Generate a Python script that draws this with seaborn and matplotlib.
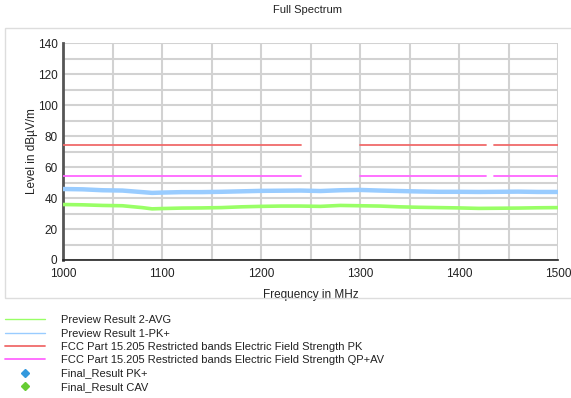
import numpy as np
import pandas as pd
import matplotlib
matplotlib.use("Agg")
import matplotlib.pyplot as plt
from matplotlib.lines import Line2D
from matplotlib.patches import Rectangle
from matplotlib.ticker import MultipleLocator
import seaborn as sns

# ---- data ----
freq = [1000, 1020, 1040, 1060, 1080, 1090, 1100, 1120, 1140, 1160, 1180, 1200, 1220, 1240,
        1260, 1280, 1300, 1320, 1340, 1360, 1380, 1400, 1420, 1440, 1460, 1480, 1500]
pk_level = [45.8, 45.6, 45.0, 44.8, 43.8, 43.3, 43.5, 43.8, 43.8, 44.0, 44.3, 44.6, 44.7, 44.8,
            44.5, 45.0, 45.2, 44.8, 44.5, 44.2, 44.0, 44.0, 43.9, 44.0, 44.1, 43.9, 43.9]
avg_level = [35.8, 35.6, 35.2, 35.0, 33.8, 33.0, 33.2, 33.5, 33.6, 33.8, 34.3, 34.6, 34.8, 34.8,
             34.6, 35.2, 35.0, 34.8, 34.3, 34.0, 33.8, 33.6, 33.3, 33.4, 33.5, 33.7, 33.8]
band_start = [1000, 1300, 1435]
band_stop = [1240, 1427, 1500]
limit_pk = 74
limit_av = 54
labels = ["Preview Result 2-AVG", "Preview Result 1-PK+",
          "FCC Part 15.205 Restricted bands Electric Field Strength PK",
          "FCC Part 15.205 Restricted bands Electric Field Strength QP+AV",
          "Final_Result PK+", "Final_Result CAV"]

c_avg = "#99ff66"
c_pk = "#99ccff"
c_red = "#f06a6a"
c_mag = "#ff66ff"

sns.set_theme(style="white")
plt.rcParams["font.family"] = ["Liberation Sans", "DejaVu Sans"]

fig = plt.figure(figsize=(5.71, 3.98), dpi=100)
W, H = 571, 398
ax = fig.add_axes([63 / W, 1 - 260 / H, (558 - 63) / W, (260 - 43) / H])

# panel border
fig.patches.append(Rectangle((5 / W, 1 - 298 / H), 1.0, (298 - 28) / H, transform=fig.transFigure,
                             fill=False, edgecolor="#dddddd", linewidth=1.0, zorder=0))

df = pd.DataFrame({"f": freq, "pk": pk_level, "avg": avg_level})
sns.lineplot(data=df, x="f", y="pk", ax=ax, color=c_pk, linewidth=3.2, zorder=3)
sns.lineplot(data=df, x="f", y="avg", ax=ax, color=c_avg, linewidth=2.6, zorder=3)

for s, e in zip(band_start, band_stop):
    lim = pd.DataFrame({"f": [s, e], "pk": [limit_pk, limit_pk], "av": [limit_av, limit_av]})
    sns.lineplot(data=lim, x="f", y="pk", ax=ax, color=c_red, linewidth=1.3, zorder=4)
    sns.lineplot(data=lim, x="f", y="av", ax=ax, color=c_mag, linewidth=1.3, zorder=4)

ax.set_xlim(1000, 1500)
ax.set_ylim(0, 140)
ax.xaxis.set_major_locator(MultipleLocator(100))
ax.xaxis.set_minor_locator(MultipleLocator(50))
ax.yaxis.set_major_locator(MultipleLocator(20))
ax.yaxis.set_minor_locator(MultipleLocator(10))
ax.grid(True, which="both", color="#d2d2d2", linewidth=1.5, zorder=0)
ax.set_axisbelow(True)
for side in ["top", "right"]:
    ax.spines[side].set_visible(False)
ax.spines["bottom"].set_color("#222222")
ax.spines["bottom"].set_linewidth(1.2)
ax.spines["left"].set_color("#555555")
ax.spines["left"].set_linewidth(2.0)
ax.tick_params(which="both", direction="inout", length=6, width=1.0, color="#222222",
               labelsize=8.5, pad=1, labelcolor="#222222")
ax.tick_params(axis="x", pad=3)
ax.set_xlabel("Frequency in MHz", fontsize=8.5, color="#222222", labelpad=6)
ax.set_ylabel("Level in dBµV/m", fontsize=8.5, color="#222222", labelpad=0)
fig.text(307 / W, 1 - 10 / H, "Full Spectrum", ha="center", va="center", fontsize=8, color="#222222")

handles = [Line2D([], [], color=c_avg, linewidth=1.0),
           Line2D([], [], color=c_pk, linewidth=1.0),
           Line2D([], [], color=c_red, linewidth=1.3),
           Line2D([], [], color=c_mag, linewidth=1.3),
           Line2D([], [], color="#3399dd", marker="D", markersize=4, linestyle="none"),
           Line2D([], [], color="#66cc33", marker="D", markersize=4, linestyle="none")]
leg = fig.legend(handles, labels, loc="upper left", bbox_to_anchor=(3 / W, 1 - 313 / H),
                 frameon=False, fontsize=8, handlelength=3.6, handletextpad=1.4,
                 labelspacing=0.3, borderaxespad=0, borderpad=0.2)
for t in leg.get_texts():
    t.set_color("#222222")

fig.savefig("out.png", dpi=100)
